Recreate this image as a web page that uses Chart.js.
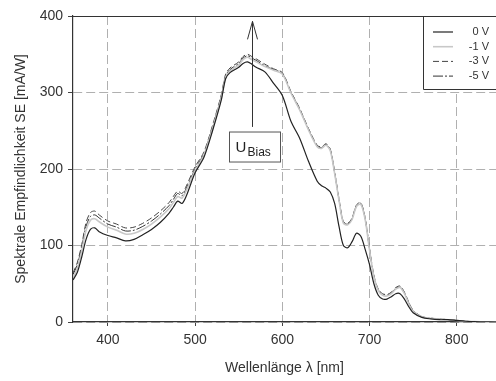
<!DOCTYPE html>
<html>
<head>
<meta charset="utf-8">
<script src="https://cdn.jsdelivr.net/npm/chart.js@4"></script>
<style>
  body { margin: 0; background: #fff; }
  #box { width: 496px; height: 381px; }
</style>
</head>
<body>
<div id="box"><canvas id="grafico"></canvas></div>
<script>
// Wellenlängen (nm) und spektrale Empfindlichkeit (mA/W) bei verschiedenen Bias-Spannungen
const wellenlaenge = [360, 365, 370, 375, 380, 385, 390, 400, 410, 420, 430, 440, 450, 460, 470, 475, 480, 485, 490, 500,
  510, 520, 530, 535, 540, 550, 555, 560, 565, 570, 580, 590, 600, 610, 620, 630, 640, 645, 650, 655,
  660, 665, 670, 675, 680, 685, 690, 695, 700, 705, 710, 715, 720, 725, 730, 735, 740, 745, 750, 760,
  770, 780, 790, 800, 810, 820, 830, 845];

const se0V = [55, 65, 85, 108, 121, 123, 118, 113, 110, 106, 108, 114, 121, 130, 142, 150, 158, 155, 165, 195,
  215, 250, 290, 318, 326, 333, 338, 340, 337, 333, 327, 312, 296, 262, 240, 210, 184, 178, 175, 170,
  155, 125, 100, 97, 105, 116, 112, 95, 75, 50, 35, 30, 30, 33, 37, 37, 30, 20, 12, 6,
  4, 3, 3, 2, 1, 0.5, 0.3, 0];

const se1V = [58, 70, 93, 120, 133, 135, 131, 124, 120, 115, 116, 121, 128, 137, 148, 156, 164, 162, 172, 198,
  218, 253, 293, 320, 328, 336, 343, 346, 343, 340, 334, 329, 324, 299, 277, 251, 229, 227, 231, 224,
  194, 159, 129, 127, 134, 151, 154, 134, 94, 59, 41, 35, 34, 37, 43, 45, 37, 24, 14, 7,
  5, 4, 3, 2, 1, 0.5, 0.3, 0];

const se3V = [64, 78, 101, 130, 143, 145, 140, 132, 128, 123, 124, 129, 136, 145, 156, 164, 171, 168, 178, 203,
  222, 257, 297, 324, 332, 340, 347, 350, 347, 344, 337, 331, 326, 301, 279, 253, 231, 229, 233, 226,
  196, 161, 131, 129, 136, 153, 156, 136, 96, 61, 43, 37, 36, 39, 45, 47, 39, 26, 15, 7,
  5, 4, 3, 2, 1, 0.5, 0.3, 0];

const se5V = [62, 75, 98, 125, 138, 140, 136, 128, 124, 119, 120, 125, 132, 141, 152, 160, 168, 165, 175, 200,
  220, 255, 295, 322, 330, 338, 345, 348, 345, 342, 335, 330, 325, 300, 278, 252, 230, 228, 232, 225,
  195, 160, 130, 128, 135, 152, 155, 135, 95, 60, 42, 36, 35, 38, 44, 46, 38, 25, 15, 7,
  5, 4, 3, 2, 1, 0.5, 0.3, 0];

const xTicks = [400, 500, 600, 700, 800];
const yTicks = [0, 100, 200, 300, 400];

function punkte(werte) {
  return werte.map((v, i) => ({ x: wellenlaenge[i], y: v }));
}

const schrift = 'Arial, "Liberation Sans", sans-serif';

// Rahmen oben, Legende und der Pfeil mit U_Bias
const extras = {
  id: 'extras',
  afterDraw(chart) {
    const ctx = chart.ctx;
    const a = chart.chartArea;
    const xs = chart.scales.x;
    const ys = chart.scales.y;
    ctx.save();

    // obere Rahmenlinie
    ctx.strokeStyle = '#333';
    ctx.lineWidth = 1.2;
    ctx.beginPath();
    ctx.moveTo(a.left, a.top + 0.5);
    ctx.lineTo(a.right, a.top + 0.5);
    ctx.stroke();

    // Legende
    const lx = 423.5, ly = a.top, lb = 89.5;
    ctx.fillStyle = '#fff';
    ctx.fillRect(lx, ly + 1, a.right - lx, lb - ly - 1);
    ctx.strokeStyle = '#333';
    ctx.lineWidth = 1;
    ctx.beginPath();
    ctx.moveTo(lx, ly);
    ctx.lineTo(lx, lb);
    ctx.lineTo(a.right + 2, lb);
    ctx.stroke();
    ctx.font = '11px ' + schrift;
    ctx.textAlign = 'right';
    ctx.textBaseline = 'middle';
    chart.data.datasets.forEach((ds, i) => {
      const y = 32 + i * 14.7;
      ctx.strokeStyle = ds.borderColor;
      ctx.lineWidth = ds.borderWidth;
      ctx.setLineDash(ds.borderDash || []);
      ctx.beginPath();
      ctx.moveTo(433, y);
      ctx.lineTo(453, y);
      ctx.stroke();
      ctx.setLineDash([]);
      ctx.fillStyle = '#333';
      ctx.fillText(ds.label, 489, y);
    });

    // Pfeil
    const px = Math.round(xs.getPixelForValue(565)) + 0.5;
    const pUnten = ys.getPixelForValue(255);
    const pOben = ys.getPixelForValue(393);
    ctx.strokeStyle = '#333';
    ctx.lineWidth = 1;
    ctx.beginPath();
    ctx.moveTo(px, pUnten);
    ctx.lineTo(px, pOben);
    ctx.moveTo(px - 5, pOben + 18);
    ctx.lineTo(px, pOben);
    ctx.lineTo(px + 5, pOben + 18);
    ctx.stroke();

    // Beschriftungskasten U_Bias
    const bx = 229.5, by = ys.getPixelForValue(249) + 0.5, bw = 51, bh = 30;
    ctx.fillStyle = '#fff';
    ctx.fillRect(bx, by, bw, bh);
    ctx.strokeStyle = '#555';
    ctx.strokeRect(bx, by, bw, bh);
    ctx.fillStyle = '#222';
    ctx.textAlign = 'left';
    ctx.textBaseline = 'alphabetic';
    ctx.font = '15px ' + schrift;
    ctx.fillText('U', bx + 6, by + 20);
    ctx.font = '12px ' + schrift;
    ctx.fillText('Bias', bx + 18, by + 24);

    ctx.restore();
  }
};

const ctx = document.getElementById('grafico').getContext('2d');
const grafico = new Chart(ctx, {
  type: 'line',
  data: {
    datasets: [
      { label: '0 V', data: punkte(se0V), borderColor: '#222', borderWidth: 1.2 },
      { label: '-1 V', data: punkte(se1V), borderColor: '#c8c8c8', borderWidth: 1.6 },
      { label: '-3 V', data: punkte(se3V), borderColor: '#444', borderWidth: 1, borderDash: [6, 3] },
      { label: '-5 V', data: punkte(se5V), borderColor: '#333', borderWidth: 1, borderDash: [10, 2, 2, 2] }
    ]
  },
  options: {
    responsive: true,
    maintainAspectRatio: false,
    animation: false,
    layout: { padding: { top: 16, right: 0, bottom: 0, left: 0 } },
    elements: {
      point: { radius: 0 },
      line: { tension: 0.3, fill: false }
    },
    plugins: {
      legend: { display: false },
      tooltip: { enabled: false }
    },
    scales: {
      x: {
        type: 'linear',
        min: 360,
        max: 845,
        afterBuildTicks: (s) => { s.ticks = xTicks.map(v => ({ value: v })); },
        afterFit: (s) => { s.height = 59; },
        ticks: { color: '#333', font: { family: schrift, size: 14 }, padding: 6, maxRotation: 0 },
        grid: { color: '#b0b0b0', lineWidth: 1, tickColor: '#444', tickLength: 4, tickBorderDash: [] },
        border: { color: '#333', width: 1.2, dash: [9, 4] },
        title: { display: true, text: 'Wellenlänge λ [nm]', color: '#333', font: { family: schrift, size: 14 }, padding: { top: 0, bottom: 4 } }
      },
      y: {
        min: 0,
        max: 400,
        afterBuildTicks: (s) => { s.ticks = yTicks.map(v => ({ value: v })); },
        afterFit: (s) => { s.width = 73; },
        ticks: { color: '#333', font: { family: schrift, size: 14 }, padding: 5 },
        grid: { color: '#b0b0b0', lineWidth: 1, tickColor: '#444', tickLength: 5, tickBorderDash: [] },
        border: { color: '#333', width: 1.2, dash: [9, 4] },
        title: { display: true, text: 'Spektrale Empfindlichkeit SE [mA/W]', color: '#333', font: { family: schrift, size: 14 }, padding: { top: 13, bottom: 0 } }
      }
    }
  },
  plugins: [extras]
});
</script>
</body>
</html>
